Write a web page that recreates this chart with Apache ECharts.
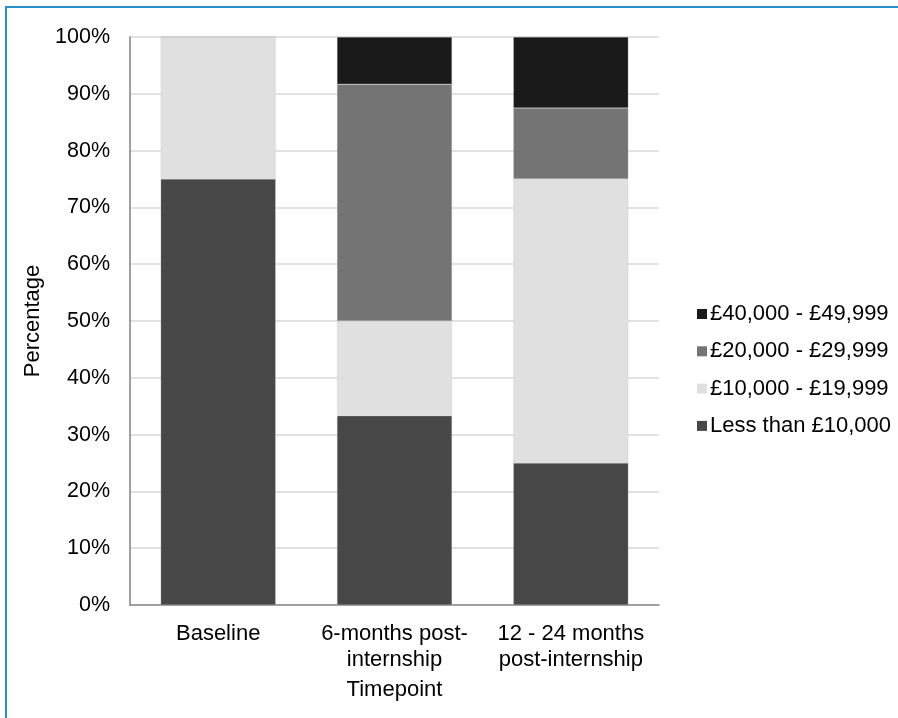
<!DOCTYPE html>
<html>
<head>
<meta charset="utf-8">
<script src="https://cdn.jsdelivr.net/npm/echarts@6/dist/echarts.min.js"></script>
<style>
html,body{margin:0;padding:0;background:#fff;}
#frame{position:absolute;left:5px;top:6px;width:893px;height:712px;border-left:2px solid #2a8fc8;border-top:2px solid #2a8fc8;box-sizing:border-box;}
#chart{position:absolute;left:0;top:0;width:898px;height:718px;}
</style>
</head>
<body>
<div id="frame"></div>
<div id="chart"></div>
<script>
const categories = ['Baseline', '6-months post-\ninternship', '12 - 24 months\npost-internship'];
const seriesNames = ['Less than £10,000', '£10,000 - £19,999', '£20,000 - £29,999', '£40,000 - £49,999'];
const lessThan10k = [75, 33.3, 25];
const from10kTo19k = [25, 16.7, 50];
const from20kTo29k = [0, 41.7, 12.5];
const from40kTo49k = [0, 8.3, 12.5];
const yTicks = [0, 10, 20, 30, 40, 50, 60, 70, 80, 90, 100];

const colors = ['#474747', '#e0e0e0', '#747474', '#1a1a1a'];
const values = [lessThan10k, from10kTo19k, from20kTo29k, from40kTo49k];
const font = 'Liberation Sans, Arial, sans-serif';

const chart = echarts.init(document.getElementById('chart'));
chart.setOption({
  animation: false,
  textStyle: { fontFamily: font },
  grid: { left: 130, top: 37, right: 239, bottom: 113, containLabel: false },
  legend: {
    data: seriesNames.slice().reverse(),
    orient: 'vertical',
    left: 692,
    top: 298,
    itemWidth: 10,
    itemHeight: 10,
    itemGap: 15.3,
    icon: 'rect',
    itemStyle: { borderWidth: 0 },
    textStyle: { fontSize: 22, color: '#000', fontFamily: font, padding: [0, 0, 0, -2] }
  },
  xAxis: {
    type: 'category',
    data: categories,
    name: 'Timepoint',
    nameLocation: 'middle',
    nameGap: 74,
    nameTextStyle: { fontSize: 22, color: '#000', fontFamily: font },
    axisLine: { lineStyle: { color: '#8a8a8a', width: 1.5 } },
    axisTick: { show: false },
    axisLabel: { fontSize: 22, color: '#000', margin: 16, lineHeight: 26, interval: 0, fontFamily: font }
  },
  yAxis: {
    type: 'value',
    min: yTicks[0],
    max: yTicks[yTicks.length - 1],
    interval: 10,
    name: 'Percentage',
    nameLocation: 'middle',
    nameGap: 80,
    nameRotate: 90,
    nameTextStyle: { fontSize: 22, color: '#000', fontFamily: font },
    axisLine: { show: true, lineStyle: { color: '#808080', width: 1.5 } },
    axisTick: { show: false },
    splitLine: { lineStyle: { color: '#d9d9d9', width: 1.5 } },
    axisLabel: { fontSize: 21.5, color: '#000', margin: 20, formatter: '{value}%', fontFamily: font }
  },
  series: seriesNames.map((n, i) => ({
    name: n,
    type: 'bar',
    stack: 'total',
    barWidth: 115,
    itemStyle: { color: colors[i], borderColor: 'rgba(190,190,190,0.5)', borderWidth: 0.5 },
    data: values[i]
  }))
});
</script>
</body>
</html>
